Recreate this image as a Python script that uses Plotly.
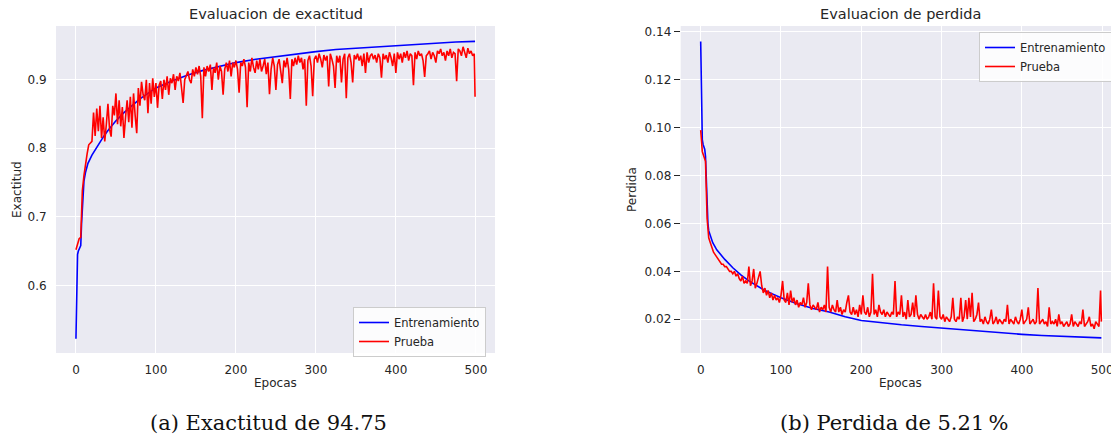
import plotly.graph_objects as go

# ---------------- DATA ----------------
# Training accuracy (smooth curve) read at selected epochs
acc_train_epochs = [0, 1, 2, 3, 4, 5, 6, 7, 8, 9, 10, 12, 15, 20, 25, 30, 35, 40, 50, 60, 70, 80, 90,
                    100, 120, 140, 160, 180, 200, 225, 250, 275, 300, 325, 350, 375, 400, 425, 450, 475, 499]
acc_train = [0.522, 0.630, 0.645, 0.650, 0.652, 0.655, 0.658, 0.690, 0.720, 0.740, 0.752, 0.765, 0.778,
             0.790, 0.800, 0.808, 0.818, 0.826, 0.840, 0.852, 0.862, 0.872, 0.880, 0.888, 0.898, 0.907,
             0.914, 0.920, 0.925, 0.930, 0.934, 0.938, 0.941, 0.944, 0.946, 0.948, 0.950, 0.952, 0.953,
             0.955, 0.956]

# Test accuracy read every 2 epochs (0..498) plus epoch 499
test_epochs = list(range(0, 500, 2)) + [499]
acc_test = [
    0.652, 0.662, 0.668, 0.670, 0.738, 0.760, 0.778, 0.792, 0.805, 0.808,
    0.810, 0.852, 0.818, 0.858, 0.825, 0.862, 0.815, 0.845, 0.810, 0.835,
    0.865, 0.828, 0.817, 0.862, 0.848, 0.880, 0.835, 0.870, 0.832, 0.860,
    0.815, 0.845, 0.870, 0.838, 0.875, 0.830, 0.880, 0.848, 0.822, 0.888,
    0.862, 0.897, 0.878, 0.870, 0.900, 0.851, 0.895, 0.865, 0.902, 0.875,
    0.895, 0.859, 0.892, 0.898, 0.872, 0.900, 0.885, 0.905, 0.878, 0.902,
    0.895, 0.908, 0.885, 0.905, 0.898, 0.910, 0.890, 0.866, 0.900, 0.905,
    0.912, 0.900, 0.895, 0.915, 0.905, 0.918, 0.908, 0.920, 0.905, 0.844,
    0.918, 0.905, 0.920, 0.912, 0.922, 0.885, 0.918, 0.910, 0.925, 0.900,
    0.920, 0.912, 0.878, 0.915, 0.925, 0.912, 0.928, 0.905, 0.925, 0.918,
    0.928, 0.915, 0.881, 0.925, 0.920, 0.930, 0.918, 0.860, 0.925, 0.912,
    0.932, 0.918, 0.910, 0.928, 0.915, 0.930, 0.912, 0.920, 0.930, 0.908,
    0.925, 0.879, 0.915, 0.932, 0.920, 0.885, 0.922, 0.930, 0.912, 0.895,
    0.928, 0.918, 0.932, 0.915, 0.872, 0.930, 0.920, 0.932, 0.922, 0.935,
    0.925, 0.932, 0.915, 0.930, 0.862, 0.928, 0.935, 0.920, 0.876, 0.930,
    0.935, 0.925, 0.938, 0.930, 0.918, 0.936, 0.928, 0.935, 0.890, 0.938,
    0.930, 0.920, 0.888, 0.935, 0.925, 0.935, 0.896, 0.930, 0.938, 0.873,
    0.932, 0.938, 0.925, 0.896, 0.936, 0.930, 0.938, 0.928, 0.935, 0.920,
    0.938, 0.910, 0.940, 0.925, 0.935, 0.938, 0.930, 0.936, 0.925, 0.938,
    0.932, 0.903, 0.938, 0.930, 0.936, 0.925, 0.940, 0.932, 0.920, 0.938,
    0.910, 0.940, 0.930, 0.938, 0.925, 0.940, 0.932, 0.942, 0.928, 0.938,
    0.935, 0.892, 0.940, 0.930, 0.942, 0.935, 0.938, 0.928, 0.904, 0.935,
    0.938, 0.942, 0.930, 0.940, 0.935, 0.925, 0.942, 0.938, 0.945, 0.935,
    0.940, 0.928, 0.942, 0.935, 0.945, 0.932, 0.940, 0.938, 0.898, 0.945,
    0.942, 0.935, 0.948, 0.940, 0.932, 0.946, 0.938, 0.942, 0.935, 0.938,
    0.875,
]

# Training loss (smooth curve) read at selected epochs
loss_train_epochs = [0, 1, 2, 3, 4, 5, 6, 7, 8, 9, 10, 12, 15, 20, 25, 30, 40, 50, 60, 70, 80, 90, 100,
                     120, 140, 160, 180, 200, 225, 250, 275, 300, 325, 350, 375, 400, 425, 450, 475, 499]
loss_train = [0.136, 0.100, 0.095, 0.093, 0.092, 0.091, 0.088, 0.075, 0.065, 0.060, 0.057, 0.055, 0.052,
              0.049, 0.047, 0.045, 0.0415, 0.0385, 0.036, 0.034, 0.032, 0.0305, 0.029, 0.0265, 0.0245,
              0.023, 0.021, 0.0195, 0.0185, 0.0177, 0.017, 0.0163, 0.0155, 0.0148, 0.0142, 0.0137,
              0.0132, 0.0128, 0.0125, 0.0122]

# Test loss read every 2 epochs (0..498) plus epoch 499
loss_test = [
    0.099, 0.090, 0.088, 0.086, 0.062, 0.054, 0.052, 0.050, 0.048, 0.047,
    0.046, 0.045, 0.044, 0.043, 0.043, 0.042, 0.042, 0.041, 0.040, 0.040,
    0.039, 0.040, 0.038, 0.039, 0.037, 0.036, 0.038, 0.035, 0.036, 0.035,
    0.042, 0.034, 0.036, 0.041, 0.033, 0.035, 0.038, 0.040, 0.034, 0.031,
    0.033, 0.030, 0.032, 0.029, 0.031, 0.028, 0.030, 0.028, 0.029, 0.027,
    0.030, 0.036, 0.028, 0.027, 0.031, 0.026, 0.032, 0.027, 0.029, 0.026,
    0.028, 0.025, 0.027, 0.026, 0.029, 0.025, 0.027, 0.035, 0.026, 0.024,
    0.026, 0.025, 0.024, 0.027, 0.023, 0.025, 0.024, 0.026, 0.023, 0.042,
    0.025, 0.023, 0.026, 0.024, 0.023, 0.028, 0.023, 0.025, 0.022, 0.024,
    0.023, 0.027, 0.030, 0.023, 0.022, 0.025, 0.022, 0.024, 0.021, 0.026,
    0.022, 0.030, 0.023, 0.022, 0.025, 0.021, 0.023, 0.039, 0.022, 0.024,
    0.021, 0.026, 0.023, 0.022, 0.024, 0.021, 0.023, 0.022, 0.021, 0.023,
    0.022, 0.036, 0.021, 0.023, 0.022, 0.030, 0.021, 0.023, 0.020, 0.028,
    0.021, 0.022, 0.027, 0.021, 0.030, 0.022, 0.020, 0.022, 0.021, 0.020,
    0.022, 0.020, 0.021, 0.023, 0.020, 0.035, 0.021, 0.020, 0.032, 0.021,
    0.020, 0.022, 0.019, 0.021, 0.020, 0.019, 0.021, 0.029, 0.020, 0.019,
    0.021, 0.020, 0.029, 0.019, 0.021, 0.028, 0.020, 0.029, 0.021, 0.031,
    0.019, 0.020, 0.022, 0.027, 0.019, 0.020, 0.018, 0.021, 0.019, 0.018,
    0.020, 0.024, 0.018, 0.019, 0.021, 0.018, 0.020, 0.019, 0.018, 0.020,
    0.019, 0.026, 0.018, 0.020, 0.019, 0.018, 0.021, 0.019, 0.018, 0.020,
    0.024, 0.018, 0.019, 0.020, 0.025, 0.018, 0.019, 0.020, 0.018, 0.019,
    0.033, 0.018, 0.019, 0.020, 0.018, 0.019, 0.017, 0.025, 0.018, 0.019,
    0.018, 0.020, 0.017, 0.022, 0.018, 0.019, 0.017, 0.018, 0.019, 0.017,
    0.018, 0.022, 0.017, 0.019, 0.018, 0.017, 0.019, 0.018, 0.024, 0.017,
    0.018, 0.019, 0.021, 0.017, 0.018, 0.016, 0.019, 0.018, 0.017, 0.032,
    0.019,
]

x_ticks = [0, 100, 200, 300, 400, 500]
acc_ticks = [0.6, 0.7, 0.8, 0.9]
loss_ticks = [0.02, 0.04, 0.06, 0.08, 0.10, 0.12, 0.14]

series_names = ["Entrenamiento", "Prueba"]
titles = ["Evaluacion de exactitud", "Evaluacion de perdida"]
captions = ["(a) Exactitud de 94.75", "(b) Perdida de 5.21\u2009%"]

# ---------------- FIGURE ----------------
W, H = 1111, 440
BG = "#EAEAF2"
TXT = "#262626"
FONT = "DejaVu Sans"

def px(x):
    return x / W

def py(y):
    return 1 - y / H

fig = go.Figure()

fig.add_trace(go.Scatter(x=acc_train_epochs, y=acc_train, mode="lines", name=series_names[0],
                         line=dict(color="#0000FF", width=1.6), xaxis="x", yaxis="y", legend="legend"))
fig.add_trace(go.Scatter(x=test_epochs, y=acc_test, mode="lines", name=series_names[1],
                         line=dict(color="#FF0000", width=1.6), xaxis="x", yaxis="y", legend="legend"))
fig.add_trace(go.Scatter(x=loss_train_epochs, y=loss_train, mode="lines", name=series_names[0],
                         line=dict(color="#0000FF", width=1.6), xaxis="x2", yaxis="y2", legend="legend2"))
fig.add_trace(go.Scatter(x=test_epochs, y=loss_test, mode="lines", name=series_names[1],
                         line=dict(color="#FF0000", width=1.6), xaxis="x2", yaxis="y2", legend="legend2"))

ydom = [py(353), py(26)]
common_axis = dict(showgrid=True, gridcolor="white", gridwidth=1.2, zeroline=False, showline=False,
                   automargin=False, ticklabeloverflow="allow",
                   tickfont=dict(family=FONT, size=12, color=TXT))

fig.update_layout(
    width=W, height=H,
    margin=dict(l=0, r=0, t=0, b=0, pad=0, autoexpand=False),
    paper_bgcolor="white",
    plot_bgcolor=BG,
    font=dict(family=FONT, color=TXT),
    xaxis=dict(domain=[px(56), px(495)], range=[-24.95, 523.95], tickvals=x_ticks,
               ticks="outside", ticklen=6, tickcolor="rgba(0,0,0,0)", anchor="y", **common_axis),
    yaxis=dict(domain=ydom, range=[0.5012, 0.9784], tickvals=acc_ticks, tickformat=".1f",
               ticks="outside", ticklen=6, tickcolor="rgba(0,0,0,0)", anchor="x", **common_axis),
    xaxis2=dict(domain=[px(680.7), 1.0], range=[-24.9, 511.0], tickvals=x_ticks,
                ticks="outside", ticklen=6, tickcolor="rgba(0,0,0,0)", anchor="y2", **common_axis),
    yaxis2=dict(domain=ydom, range=[0.0059, 0.1425], tickvals=loss_ticks, tickformat=".2f",
                ticks="outside", ticklen=6, tickwidth=1, tickcolor=TXT, anchor="x2", **common_axis),
    legend=dict(x=px(353), y=py(307), xanchor="left", yanchor="top",
                bgcolor="rgba(255,255,255,0.85)", bordercolor="#CCCCCC", borderwidth=1,
                font=dict(family=FONT, size=11.5, color=TXT), itemwidth=30, tracegroupgap=0),
    legend2=dict(x=px(979), y=py(32), xanchor="left", yanchor="top",
                 bgcolor="rgba(255,255,255,0.85)", bordercolor="#CCCCCC", borderwidth=1,
                 font=dict(family=FONT, size=11.5, color=TXT), itemwidth=30, tracegroupgap=0),
    showlegend=True,
)

annotations = [
    dict(text=titles[0], x=px(275.5), y=py(14), font=dict(size=14.5)),
    dict(text=titles[1], x=px(900), y=py(14), font=dict(size=14.5)),
    dict(text="Epocas", x=px(275.5), y=py(383), font=dict(size=12)),
    dict(text="Epocas", x=px(900), y=py(383), font=dict(size=12)),
    dict(text="Exactitud", x=px(17), y=py(190), font=dict(size=12), textangle=-90),
    dict(text="Perdida", x=px(632), y=py(190), font=dict(size=12), textangle=-90),
    dict(text=captions[0], x=px(268), y=py(423), font=dict(size=21, family="DejaVu Serif", color="#111")),
    dict(text=captions[1], x=px(894), y=py(423), font=dict(size=21, family="DejaVu Serif", color="#111")),
]
for a in annotations:
    a.update(xref="paper", yref="paper", showarrow=False, xanchor="center", yanchor="middle")
    a["font"].setdefault("family", FONT)
    a["font"].setdefault("color", TXT)
    fig.add_annotation(**a)

fig.write_html(
    "out.html",
    config={"displayModeBar": False},
    post_script="document.body.style.margin='0';document.body.style.padding='0';"
                "document.body.style.overflow='hidden';",
)
